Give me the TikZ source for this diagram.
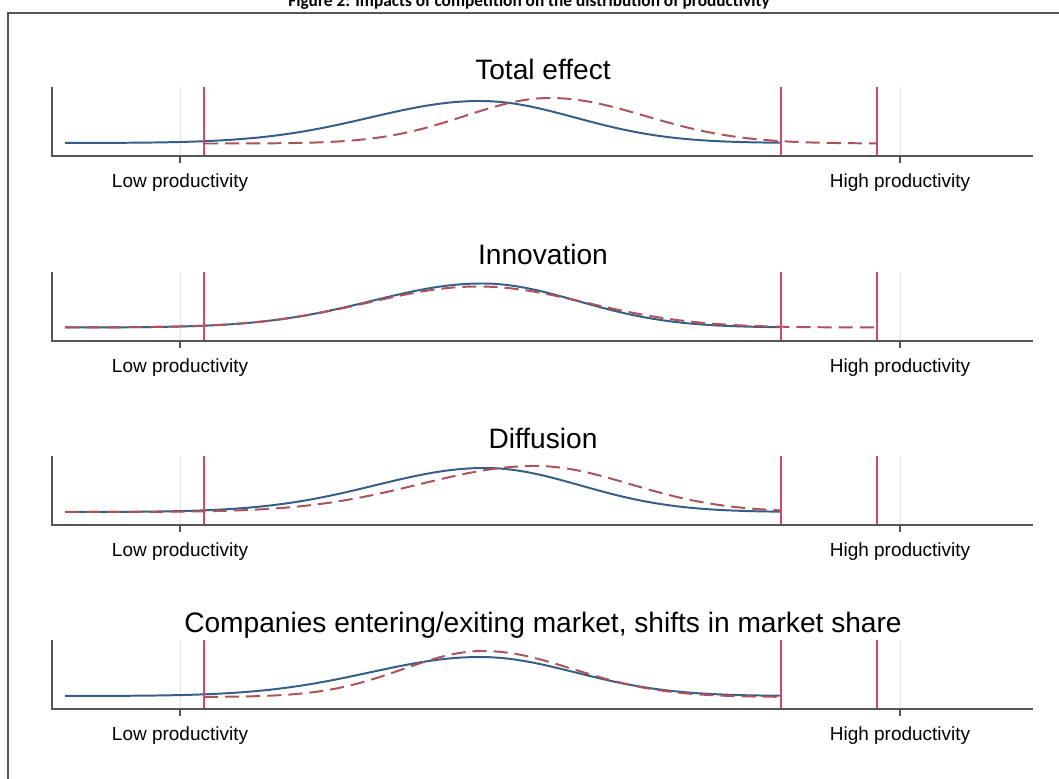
\documentclass[tikz,border=0pt]{standalone}
\usepackage{fontspec}
\setmainfont{Liberation Sans}
\newfontfamily\capfont{Carlito}
\usepackage{tikz}
\usetikzlibrary{positioning}

\definecolor{axisgray}{RGB}{85,85,85}
\definecolor{gridgray}{RGB}{228,228,228}
\definecolor{curveblue}{RGB}{52,94,136}
\definecolor{curvered}{RGB}{172,82,88}
\definecolor{cutred}{RGB}{208,72,106}

\tikzset{
  declare function={gs(\u)=exp(-0.5*\u*\u);
    dens(\t,\m,\h,\p,\q)=\h*gs((\t-\m)/ifthenelse(\t<\m,\p,\q));},
  axisline/.style={draw=axisgray,line width=1.1pt},
  gridline/.style={draw=gridgray,line width=0.7pt},
  bluecurve/.style={draw=curveblue,line width=1.4pt},
  redcurve/.style={draw=curvered,line width=1.4pt,dash pattern=on 10pt off 5pt},
  cutoff/.style={draw=cutred,line width=1.4pt},
  ticklabel/.style={anchor=base,font=\fontsize{13.5}{16}\selectfont},
  paneltitle/.style={anchor=base,font=\fontsize{20}{24}\selectfont}
}

\begin{document}
\begin{tikzpicture}[x=0.025cm,y=-0.025cm]
\useasboundingbox (0,0) rectangle (1059,778);
\clip (0,0) rectangle (1059,778);
\fill[white] (0,0) rectangle (1059,778);

% frame and caption (cut off at the top)
\draw[axisgray,line width=1.1pt] (8,800) -- (8,13) -- (1080,13);
\node[anchor=base,font=\capfont\bfseries\fontsize{12.3}{14}\selectfont] (caption) at (529,6.5)
  {Figure 2: Impacts of competition on the distribution of productivity};

% panels: grid, titles, labels
\foreach \B/\ttl [count=\k] in {156/Total effect,341/Innovation,525/Diffusion,
    709/{Companies entering/exiting market, shifts in market share}}{
  \draw[gridline] (180,\B-69) -- (180,\B);
  \draw[gridline] (900,\B-69) -- (900,\B);
  \node[paneltitle] (ttl\k) at (543,\B-77) {\ttl};
  \node[ticklabel] (lo\k) at (180,\B+31) {Low productivity};
  \node[ticklabel] (hi\k) at (900,\B+31) {High productivity};
}

% Total effect
\draw[bluecurve] plot[domain=65:781,samples=150,smooth] (\x,{143-dens(\x,480,42,110,95)});
\draw[redcurve] plot[domain=204:877,samples=150,smooth] (\x,{143.5-dens(\x,550,45.5,85,95)});
% Innovation
\draw[bluecurve] plot[domain=65:781,samples=150,smooth] (\x,{327.5-dens(\x,482,44,110,95)});
\draw[redcurve] plot[domain=65:877,samples=150,smooth] (\x,{327.5-dens(\x,478,41,110,108)});
% Diffusion
\draw[bluecurve] plot[domain=65:781,samples=150,smooth] (\x,{512-dens(\x,485,44,110,95)});
\draw[redcurve] plot[domain=65:781,samples=150,smooth] (\x,{512-dens(\x,535,46,115,95)});
% Entry/exit, market share
\draw[bluecurve] plot[domain=65:781,samples=150,smooth] (\x,{696-dens(\x,480,39,110,95)});
\draw[redcurve] plot[domain=204:781,samples=150,smooth] (\x,{697-dens(\x,483,46,80,90)});

% cut-offs and axes
\foreach \B in {156,341,525,709}{
  \foreach \c in {204,781,877}
    \draw[cutoff] (\c,\B-69) -- (\c,\B);
  \draw[axisline] (52,\B-69) -- (52,\B) -- (1033,\B);
  \draw[axisline] (180,\B) -- (180,\B+7);
  \draw[axisline] (900,\B) -- (900,\B+7);
}
\end{tikzpicture}
\end{document}
